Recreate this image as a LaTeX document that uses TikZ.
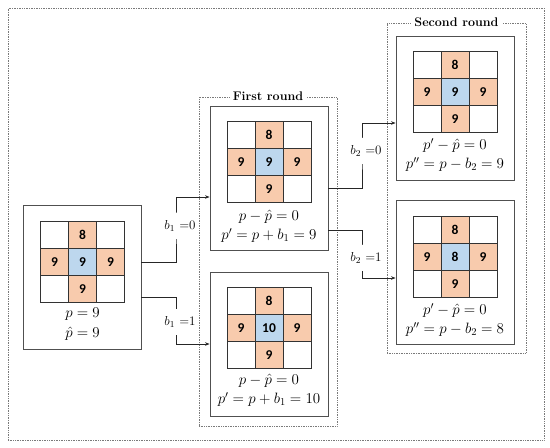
\RequirePackage{fix-cm}
\documentclass[tikz,border=0pt]{standalone}
\usepackage{fontspec}
\newfontfamily\cellfont{Carlito}
\usetikzlibrary{arrows.meta}
\definecolor{cellorange}{HTML}{F8CBAD}
\definecolor{cellblue}{HTML}{BDD7EE}
\definecolor{framegray}{HTML}{505050}
\definecolor{dotgray}{HTML}{7A7A7A}

\tikzset{
  gridcell/.style={draw=black!80, line width=0.8pt, minimum width=28pt, minimum height=27pt,
    inner sep=0pt, font=\cellfont\bfseries\fontsize{13.5}{13.5}\selectfont},
  blankcell/.style={gridcell, fill=white},
  sidecell/.style={gridcell, fill=cellorange},
  centrecell/.style={gridcell, fill=cellblue},
  stagebox/.style={draw=framegray, line width=0.9pt, inner sep=0pt, minimum width=118pt, minimum height=144pt},
  roundbox/.style={draw=dotgray, densely dotted, line width=0.7pt, inner sep=0pt},
  roundtitle/.style={fill=white, inner sep=3pt, font=\bfseries\fontsize{12.5}{15}\selectfont},
  eqtext/.style={inner sep=0pt, font=\fontsize{15}{18}\selectfont},
  conn/.style={draw=black!85, line width=0.9pt, -{Stealth[length=4.5pt,width=3.5pt]}},
  bitlabel/.style={fill=white, inner xsep=1pt, inner ysep=8pt, xshift=4pt, font=\fontsize{13}{15}\selectfont},
}

% 3x3 neighbourhood: name, x, y, centre value
\newcommand{\pixelgrid}[4]{%
  \foreach \col/\row/\val/\kind in {1/1//blankcell,2/1/8/sidecell,3/1//blankcell,
                                    1/2/9/sidecell,2/2/#4/centrecell,3/2/9/sidecell,
                                    1/3//blankcell,2/3/9/sidecell,3/3//blankcell}
    \node[\kind] (#1-\col\row) at ({#2+(\col-2)*28},{#3+(\row-2)*27}) {\val};
}

\begin{document}
\begin{tikzpicture}[x=1pt,y=-1pt]
  \useasboundingbox (0,0) rectangle (550,448);

  % dotted frames
  \node[roundbox, minimum width=536pt, minimum height=432pt] (outer) at (276,224) {};
  \node[roundbox, minimum width=138pt, minimum height=329pt] (round1) at (268,261.5) {};
  \node[roundbox, minimum width=139pt, minimum height=330pt] (round2) at (456.5,188) {};

  % stage boxes
  \node[stagebox] (init) at (82,277.5) {};
  \node[stagebox] (fr1) at (269,178) {};
  \node[stagebox] (fr2) at (269,344) {};
  \node[stagebox] (sr1) at (455,108) {};
  \node[stagebox] (sr2) at (455,272.5) {};

  % neighbourhoods
  \pixelgrid{gi}{82.5}{262}{9}
  \pixelgrid{ga}{269}{162}{9}
  \pixelgrid{gb}{269}{328}{10}
  \pixelgrid{gc}{455}{92}{9}
  \pixelgrid{gd}{455}{257}{8}

  % equations
  \node[eqtext] (ti1) at (82.5,314.5) {$p=9$};
  \node[eqtext] (ti2) at (82.5,333.5) {$\hat{p}=9$};
  \node[eqtext] (ta1) at (269,216.5) {$p-\hat{p}=0$};
  \node[eqtext] (ta2) at (269,235.5) {$p'=p+b_1=9$};
  \node[eqtext] (tb1) at (269,380.5) {$p-\hat{p}=0$};
  \node[eqtext] (tb2) at (269,399.5) {$p'=p+b_1=10$};
  \node[eqtext] (tc1) at (455,145.5) {$p'-\hat{p}=0$};
  \node[eqtext] (tc2) at (455,164.5) {$p''=p-b_2=9$};
  \node[eqtext] (td1) at (455,310.5) {$p'-\hat{p}=0$};
  \node[eqtext] (td2) at (455,329.5) {$p''=p-b_2=8$};

  % connectors
  \coordinate (k1) at (176,226);
  \coordinate (k2) at (176,322);
  \coordinate (k3) at (362,151);
  \coordinate (k4) at (362,258);
  \draw[conn] ([yshift=15.5pt]init.east) -| (k1) node[bitlabel] {$b_1$ =0} |- ([yshift=-19pt]fr1.west);
  \draw[conn] ([yshift=-19.5pt]init.east) -| (k2) node[bitlabel] {$b_1$ =1} |- (fr2.west);
  \draw[conn] ([yshift=-10pt]fr1.east) -| (k3) node[bitlabel] {$b_2$ =0} |- ([yshift=-15pt]sr1.west);
  \draw[conn] ([yshift=-52pt]fr1.east) -| (k4) node[bitlabel] {$b_2$ =1} |- ([yshift=-5.5pt]sr2.west);

  % titles
  \node[roundtitle] (title1) at (round1.north) {First round};
  \node[roundtitle] (title2) at (round2.north) {Second round};
\end{tikzpicture}
\end{document}
